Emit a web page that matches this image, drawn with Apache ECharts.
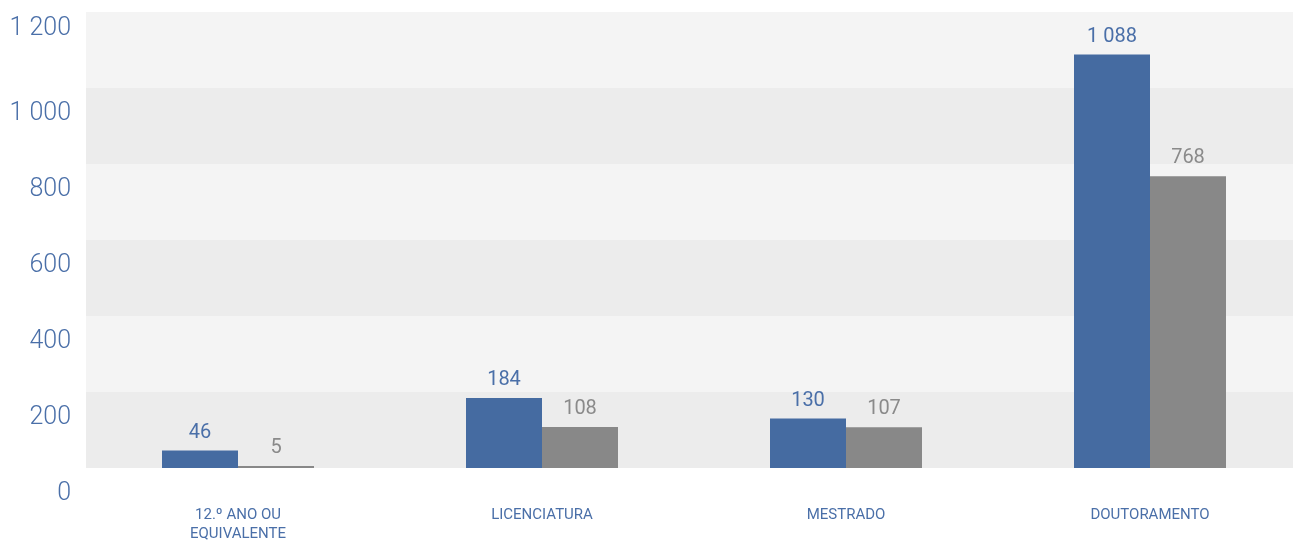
<!DOCTYPE html>
<html>
<head>
<meta charset="utf-8">
<script src="https://cdn.jsdelivr.net/npm/echarts@6/dist/echarts.min.js"></script>
<style>
  html, body { margin: 0; padding: 0; background: #ffffff; }
  #chart { width: 1293px; height: 540px; }
</style>
</head>
<body>
<div id="chart"></div>
<script>
// Education levels and the two series shown per level
const categories = ['12.º ANO OU\nEQUIVALENTE', 'LICENCIATURA', 'MESTRADO', 'DOUTORAMENTO'];
const seriesBlue = [46, 184, 130, 1088];
const seriesGray = [5, 108, 107, 768];
const yTicks = [0, 200, 400, 600, 800, 1000, 1200];

const BLUE = '#456ba1';
const GRAY = '#888888';
const TEXT_BLUE = '#4a6fa8';

// "1088" -> "1 088"
function fmt(v) {
  return String(v).replace(/\B(?=(\d{3})+(?!\d))/g, ' ');
}

const chart = echarts.init(document.getElementById('chart'));
chart.setOption({
  animation: false,
  backgroundColor: '#ffffff',
  grid: {
    left: 86, top: 12, width: 1216, height: 456,
    containLabel: false,
    outerBoundsMode: 'none'
  },
  xAxis: {
    type: 'category',
    data: categories,
    axisLine: { show: false },
    axisTick: { show: false },
    axisLabel: {
      color: TEXT_BLUE,
      fontFamily: 'Roboto',
      fontSize: 15,
      lineHeight: 19,
      margin: 38,
      interval: 0
    }
  },
  yAxis: {
    type: 'value',
    min: yTicks[0],
    max: yTicks[yTicks.length - 1],
    interval: 200,
    axisLine: { show: false },
    axisTick: { show: false },
    splitLine: { show: false },
    splitArea: { show: true, areaStyle: { color: ['#ececec', '#f4f4f4'] } },
    axisLabel: {
      margin: 15,
      formatter: function (v) {
        return v === yTicks[yTicks.length - 1] ? '{top|' + fmt(v) + '}' : '{n|' + fmt(v) + '}';
      },
      rich: {
        n: { color: TEXT_BLUE, fontFamily: 'Roboto', fontWeight: 300, fontSize: 25, padding: [51, 0, 0, 0] },
        top: { color: TEXT_BLUE, fontFamily: 'Roboto', fontWeight: 300, fontSize: 25, padding: [34, 0, 0, 0] }
      }
    }
  },
  series: [
    {
      type: 'bar',
      data: seriesBlue,
      barWidth: '25%',
      barGap: '0%',
      itemStyle: { color: BLUE },
      label: {
        show: true,
        position: 'top',
        distance: 8,
        color: TEXT_BLUE,
        fontFamily: 'Roboto',
        fontSize: 20,
        formatter: function (p) { return fmt(p.value); }
      }
    },
    {
      type: 'bar',
      data: seriesGray,
      barWidth: '25%',
      barGap: '0%',
      itemStyle: { color: GRAY },
      label: {
        show: true,
        position: 'top',
        distance: 8,
        color: '#8a8a8a',
        fontFamily: 'Roboto',
        fontSize: 20,
        formatter: function (p) { return fmt(p.value); }
      }
    }
  ]
});
</script>
</body>
</html>
